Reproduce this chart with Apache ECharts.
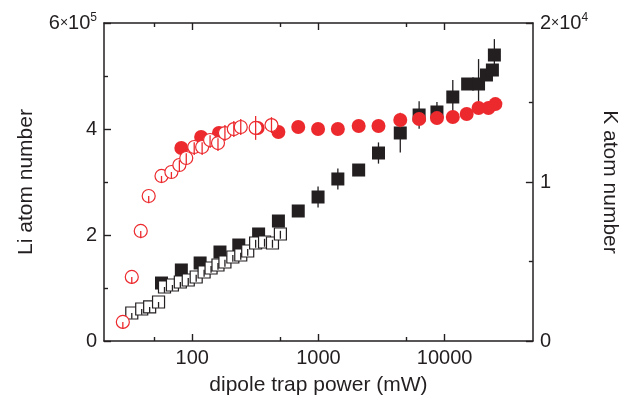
<!DOCTYPE html>
<html>
<head>
<meta charset="utf-8">
<script src="https://cdn.jsdelivr.net/npm/echarts@6/dist/echarts.min.js"></script>
<style>html,body{margin:0;padding:0;background:#fff}#c{width:628px;height:401px}</style>
</head>
<body>
<div id="c"></div>
<script>
// ---- data ----
const xMajorTicks = [100, 1000, 10000];
const xMinorTicks = [50, 500, 5000];

// Li, filled squares
const liHiX   = [57.1, 82.0, 115.5, 165.9, 233.8, 335.7, 481.8, 691.8, 993, 1425, 2083, 2990, 4450, 6276, 8688, 11600, 15210, 18560, 21440, 23890, 24770];
const liHiY   = [109400, 134000, 147200, 167900, 181100, 201900, 226400, 245300, 271700, 305700, 322600, 354700, 392500, 426400, 432100, 460400, 484900, 484900, 501900, 511300, 539600];
const liHiErr = [0, 0, 0, 0, 0, 0, 0, 0, 20000, 20000, 6000, 20000, 37000, 26000, 19000, 32000, 0, 47000, 0, 8000, 30000];

// Li, open squares
const liLoX    = [33.2, 39.8, 46.0, 54.1, 60.3, 69.7, 80.5, 93.0, 107.5, 124.2, 141, 160, 181.6, 209.8, 242.4, 275.2, 317.9, 374.1, 432.3, 499.5];
const liLoY    = [52800, 60400, 64200, 73600, 101900, 105700, 111300, 115100, 120800, 130200, 137700, 143400, 149100, 158500, 162300, 169800, 184900, 186800, 184900, 201900];
const liLoDown = [11000, 11000, 11000, 11000, 11000, 11000, 11000, 11000, 9000, 9000, 9000, 9000, 9000, 9000, 9000, 9000, 9000, 9000, 9000, 9000];
const liLoUp   = [0, 0, 0, 0, 0, 0, 0, 4000, 4000, 4000, 4000, 4000, 4000, 4000, 4000, 4000, 6000, 6000, 6000, 6000];

// K, filled circles
const kHiX   = [82.0, 117.7, 162.9, 329.7, 481.8, 691.8, 993, 1425, 2083, 2990, 4450, 6276, 8688, 11600, 14940, 18560, 22230, 25230];
const kHiY   = [12140, 12830, 13080, 13400, 13140, 13460, 13330, 13330, 13520, 13520, 13900, 13960, 14020, 14090, 14280, 14650, 14650, 14900];
const kHiErr = [0, 0, 0, 0, 0, 0, 0, 0, 0, 0, 450, 0, 0, 0, 0, 0, 0, 0];

// K, open circles
const kLoX    = [28.2, 33.2, 39.1, 45.2, 57.1, 68.4, 79.1, 89.7, 103.7, 119.8, 138.5, 160, 181.6, 213.6, 242.4, 317.9, 424.6];
const kLoY    = [1200, 4030, 6920, 9120, 10380, 10630, 11070, 11510, 12200, 12200, 12640, 12450, 13080, 13330, 13460, 13400, 13580];
const kLoDown = [450, 450, 450, 450, 450, 400, 400, 400, 500, 500, 500, 500, 500, 500, 500, 750, 500];
const kLoUp   = [0, 0, 0, 0, 0, 0, 300, 300, 300, 300, 300, 300, 500, 500, 500, 750, 500];

// ---- style ----
const BLACK = '#231f20';
const RED = '#ec2a2e';
const FONT = "'Liberation Sans', Arial, sans-serif";
const FS = 20;   // tick labels
const NFS = 21;  // axis names

function pairs(xs, ys) { return xs.map((x, i) => [x, ys[i]]); }
function errData(xs, ys, down, up) { return xs.map((x, i) => [x, ys[i] - down[i], ys[i] + up[i]]); }
function errSeries(data, yIdx, color, z) {
  return {
    type: 'custom', xAxisIndex: 0, yAxisIndex: yIdx, z: z, silent: true,
    encode: { x: 0, y: [1, 2] },
    data: data,
    renderItem: function (params, api) {
      const x = api.value(0), lo = api.value(1), hi = api.value(2);
      if (lo === hi) return null;
      const a = api.coord([x, lo]), b = api.coord([x, hi]);
      return { type: 'line', shape: { x1: a[0], y1: a[1], x2: b[0], y2: b[1] }, style: { stroke: color, lineWidth: 1.3 } };
    }
  };
}

const chart = echarts.init(document.getElementById('c'), null, { renderer: 'canvas' });

const xBase = { type: 'log', min: 20, max: 50000, logBase: 10 };
const lineStyle = { color: BLACK, width: 1.5 };
const tickStyle = { color: BLACK, width: 1.4 };

function supRich() {
  return {
    b: { fontSize: FS, fontFamily: FONT, color: BLACK },
    x: { fontSize: 14, fontFamily: FONT, color: BLACK },
    s: { fontSize: 12, fontFamily: FONT, color: BLACK, verticalAlign: 'top', padding: [0, 0, 11, 0] }
  };
}

const option = {
  animation: false,
  backgroundColor: '#fff',
  textStyle: { fontFamily: FONT },
  grid: { left: 104, right: 91, top: 23, bottom: 60 },
  xAxis: [
    Object.assign({}, xBase, {
      position: 'bottom',
      name: 'dipole trap power (mW)', nameLocation: 'middle', nameGap: 34,
      nameTextStyle: { fontSize: NFS, color: BLACK, fontFamily: FONT },
      axisLine: { show: true, lineStyle: lineStyle },
      axisTick: { show: true, inside: true, length: 7, lineStyle: tickStyle, customValues: xMajorTicks },
      axisLabel: { show: true, color: BLACK, fontSize: FS, fontFamily: FONT, margin: 7, customValues: xMajorTicks, formatter: v => String(Math.round(v)) },
      splitLine: { show: false }
    }),
    Object.assign({}, xBase, {
      position: 'bottom',
      axisLine: { show: false },
      axisTick: { show: true, inside: true, length: 4, lineStyle: tickStyle, customValues: xMinorTicks },
      axisLabel: { show: false },
      splitLine: { show: false }
    }),
    Object.assign({}, xBase, {
      position: 'top',
      axisLine: { show: true, lineStyle: lineStyle },
      axisTick: { show: true, inside: true, length: 7, lineStyle: tickStyle, customValues: xMajorTicks },
      axisLabel: { show: false },
      splitLine: { show: false }
    }),
    Object.assign({}, xBase, {
      position: 'top',
      axisLine: { show: false },
      axisTick: { show: true, inside: true, length: 4, lineStyle: tickStyle, customValues: xMinorTicks },
      axisLabel: { show: false },
      splitLine: { show: false }
    })
  ],
  yAxis: [
    {
      type: 'value', position: 'left', min: 0, max: 600000, interval: 200000,
      name: 'Li atom number', nameLocation: 'middle', nameGap: 67, nameRotate: 90,
      nameTextStyle: { fontSize: NFS, color: BLACK, fontFamily: FONT },
      axisLine: { show: true, lineStyle: lineStyle },
      axisTick: { show: true, inside: true, length: 7, lineStyle: tickStyle },
      minorTick: { show: true, splitNumber: 2, length: 4, lineStyle: tickStyle },
      axisLabel: {
        color: BLACK, fontSize: FS, fontFamily: FONT, margin: 7,
        formatter: v => v === 600000 ? '{b|6}{x|×}{b|10}{s|5}' : String(v / 100000),
        rich: supRich()
      },
      splitLine: { show: false }
    },
    {
      type: 'value', position: 'right', min: 0, max: 20000, interval: 10000,
      name: 'K atom number', nameLocation: 'middle', nameGap: 64, nameRotate: -90,
      nameTextStyle: { fontSize: NFS, color: BLACK, fontFamily: FONT },
      axisLine: { show: true, lineStyle: lineStyle },
      axisTick: { show: true, inside: true, length: 7, lineStyle: tickStyle },
      minorTick: { show: true, splitNumber: 2, length: 4, lineStyle: tickStyle },
      axisLabel: {
        color: BLACK, fontSize: FS, fontFamily: FONT, margin: 7,
        formatter: v => v === 20000 ? '{b|2}{x|×}{b|10}{s|4}' : String(v / 10000),
        rich: supRich()
      },
      splitLine: { show: false }
    }
  ],
  series: [
    errSeries(errData(liHiX, liHiY, liHiErr, liHiErr), 0, BLACK, 2),
    { type: 'scatter', xAxisIndex: 0, yAxisIndex: 0, z: 3, symbol: 'rect', symbolSize: 13,
      itemStyle: { color: BLACK, opacity: 1 }, data: pairs(liHiX, liHiY) },
    { type: 'scatter', xAxisIndex: 0, yAxisIndex: 0, z: 4, symbol: 'rect', symbolSize: 12,
      itemStyle: { color: '#fff', borderColor: BLACK, borderWidth: 1.2, opacity: 1 }, data: pairs(liLoX, liLoY) },
    errSeries(errData(liLoX, liLoY, liLoDown, liLoUp), 0, BLACK, 5),
    errSeries(errData(kHiX, kHiY, kHiErr, kHiErr), 1, RED, 6),
    { type: 'scatter', xAxisIndex: 0, yAxisIndex: 1, z: 7, symbol: 'circle', symbolSize: 14,
      itemStyle: { color: RED, opacity: 1 }, data: pairs(kHiX, kHiY) },
    { type: 'scatter', xAxisIndex: 0, yAxisIndex: 1, z: 8, symbol: 'circle', symbolSize: 13,
      itemStyle: { color: '#fff', borderColor: RED, borderWidth: 1.2, opacity: 1 }, data: pairs(kLoX, kLoY) },
    errSeries(errData(kLoX, kLoY, kLoDown, kLoUp), 1, RED, 9)
  ]
};
chart.setOption(option);
</script>
</body>
</html>
